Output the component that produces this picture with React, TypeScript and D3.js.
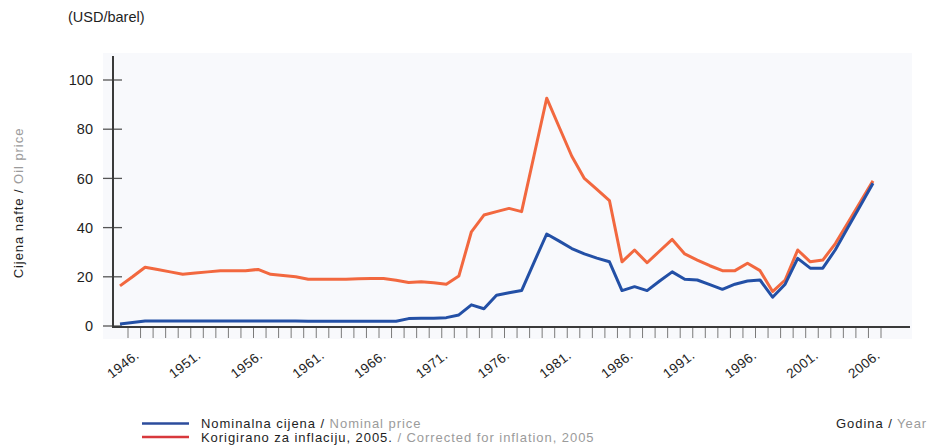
import React from "react";
import * as d3 from "d3";

const years: number[] = d3.range(1946, 2007);

const nominal: number[] = [
  0.8, 1.4, 2.0, 2.0, 2.0, 2.0, 2.0, 2.0, 2.0, 2.0,
  2.0, 2.0, 2.0, 2.0, 2.0, 1.9, 1.9, 1.9, 1.9, 1.9,
  1.9, 1.9, 1.9, 3.0, 3.1, 3.2, 3.4, 4.5, 8.6, 7.0,
  12.5, 13.5, 14.4, 26.0, 37.4, 34.5, 31.5, 29.3, 27.6, 26.1,
  14.4, 16.0, 14.4, 18.3, 22.0, 19.0, 18.7, 16.8, 14.9, 17.0,
  18.3, 18.7, 11.7, 17.0, 27.5, 23.5, 23.5, 31.0, 40.0, 49.0,
  58.0,
];

const real2005: number[] = [
  16.3, 20.0, 23.9, 23.0, 22.0, 21.0, 21.5, 22.0, 22.5, 22.5,
  22.5, 23.0, 21.0, 20.5, 20.0, 19.0, 19.0, 19.0, 19.0, 19.2,
  19.3, 19.3, 18.6, 17.7, 18.0, 17.6, 17.0, 20.3, 38.3, 45.1,
  46.5, 47.8, 46.5, 69.5, 92.6, 80.8, 69.0, 60.0, 55.5, 51.0,
  26.1, 30.9, 25.7, 30.5, 35.2, 29.3, 26.8, 24.5, 22.5, 22.5,
  25.5, 22.5, 14.0, 18.7, 30.9, 26.1, 26.8, 33.5, 42.0, 50.5,
  59.0,
];

const yTicks: number[] = [0, 20, 40, 60, 80, 100];
const xLabelYears: number[] = [1946, 1951, 1956, 1961, 1966, 1971, 1976, 1981, 1986, 1991, 1996, 2001, 2006];

const FONT = "'Liberation Sans', Arial, Helvetica, sans-serif";
const DARK = "#1e1e1e";
const GREY = "#9b9b9b";
const BLUE = "#2350a6";
const ORANGE = "#f2683f";

export default function App() {
  const W = 927;
  const H = 445;
  const x = d3.scaleLinear().domain([1946, 2006]).range([120, 873]);
  const xLabel = d3.scaleLinear().domain([1946, 2006]).range([140, 881]);
  const y = d3.scaleLinear().domain([0, 100]).range([326, 80]);
  const tickShift = 8;

  const line = d3
    .line<number>()
    .x((_, i) => x(years[i]))
    .y((d) => y(d));

  const axisX0 = 113;
  const axisX1 = 910;
  const axisY = y(0) + 1;

  const small = { fontSize: 13, letterSpacing: 0.95 } as const;

  return (
    <svg
      width={W}
      height={H}
      style={{ position: "absolute", left: 0, top: 0, background: "#ffffff" }}
      fontFamily={FONT}
    >
      <rect x={103} y={53} width={809} height={286} fill="#f8f9fc" />

      {/* y ticks */}
      {yTicks.map((t) => (
        <g key={"yt" + t}>
          <line x1={103} x2={122} y1={y(t)} y2={y(t)} stroke="#555" strokeWidth={1.3} />
          <text x={93} y={y(t)} dy="0.36em" textAnchor="end" fontSize={14.5} fill={DARK}>
            {t}
          </text>
        </g>
      ))}

      {/* x minor ticks */}
      {years.map((yr) => (
        <line
          key={"xt" + yr}
          x1={x(yr) + tickShift}
          x2={x(yr) + tickShift}
          y1={axisY + 1}
          y2={axisY + 11}
          stroke="#7a7a7a"
          strokeWidth={1}
        />
      ))}

      {/* axes */}
      <line x1={axisX0} x2={axisX0} y1={56} y2={axisY + 1} stroke="#3a3a3a" strokeWidth={2} />
      <line x1={axisX0} x2={axisX1} y1={axisY} y2={axisY} stroke="#3a3a3a" strokeWidth={2} />

      {/* x labels */}
      {xLabelYears.map((yr) => (
        <text
          key={"xl" + yr}
          transform={`translate(${xLabel(yr)},357) rotate(-38)`}
          textAnchor="end"
          fontSize={13.5}
          letterSpacing={0.4}
          fill={DARK}
        >
          {yr + "."}
        </text>
      ))}

      {/* lines */}
      <path d={line(real2005) || ""} fill="none" stroke={ORANGE} strokeWidth={3} strokeLinejoin="round" />
      <path d={line(nominal) || ""} fill="none" stroke={BLUE} strokeWidth={3} strokeLinejoin="round" />

      {/* unit */}
      <text x={68} y={22} fontSize={14.5} fill={DARK}>
        (USD/barel)
      </text>

      {/* y title */}
      <text transform="translate(23,203) rotate(-90)" textAnchor="middle" {...small} fill={DARK}>
        Cijena nafte / <tspan fill={GREY}>Oil price</tspan>
      </text>

      {/* legend */}
      <line x1={142} x2={189} y1={423.5} y2={423.5} stroke="#2c4c9c" strokeWidth={2.5} />
      <line x1={142} x2={189} y1={437} y2={437} stroke="#d8383c" strokeWidth={2.5} />
      <text x={201} y={427.5} {...small} fill={DARK}>
        Nominalna cijena / <tspan fill={GREY}>Nominal price</tspan>
      </text>
      <text x={201} y={441.5} {...small} fill={DARK}>
        Korigirano za inflaciju, 2005. <tspan fill={GREY}>/ Corrected for inflation, 2005</tspan>
      </text>

      <text x={836} y={427.5} {...small} fill={DARK}>
        Godina / <tspan fill={GREY}>Year</tspan>
      </text>
    </svg>
  );
}
